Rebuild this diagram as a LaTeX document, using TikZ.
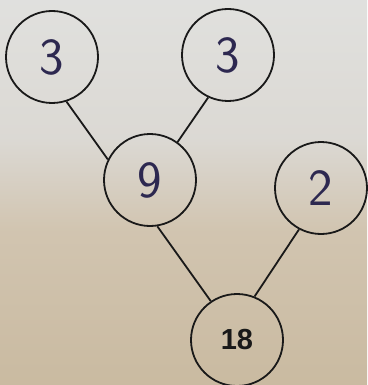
\documentclass[tikz,border=0pt]{standalone}
\usepackage{fontspec}
\newfontfamily\boldsans{Liberation Sans}
\definecolor{ink}{RGB}{45,40,80}
\definecolor{pen}{RGB}{25,25,25}
\pgfdeclareverticalshading{paper}{100bp}{%
  rgb(0bp)=(0.79,0.73,0.63);
  rgb(25bp)=(0.79,0.73,0.63);
  rgb(45bp)=(0.82,0.77,0.69);
  rgb(57bp)=(0.86,0.85,0.83);
  rgb(75bp)=(0.88,0.88,0.87);
  rgb(100bp)=(0.88,0.88,0.87)}
\tikzset{
  factor/.style={circle, draw=pen, line width=1.8pt, minimum size=92pt, inner sep=0pt,
    text=ink, font=\sffamily\fontsize{52}{52}\selectfont},
  rootnum/.style={factor, text=pen, font=\boldsans\bfseries\fontsize{29}{29}\selectfont},
  branch/.style={draw=pen, line width=1.8pt}
}
\begin{document}
\begin{tikzpicture}[x=1pt,y=-1pt]
\useasboundingbox (0,0) rectangle (367,385);
\shade[shading=paper] (0,0) rectangle (367,385);
\node[factor] (a) at (52,57) {3};
\node[factor] (b) at (228,55) {3};
\node[factor] (c) at (150,180) {9};
\node[factor] (d) at (321,188) {2};
\node[rootnum] (e) at (237,340) {18};
\draw[branch] (a.-72) -- (c.154);
\draw[branch] (b.-115) -- (c.54);
\draw[branch] (c.-81) -- (e.124);
\draw[branch] (d.-118) -- (e.68);
\end{tikzpicture}
\end{document}
